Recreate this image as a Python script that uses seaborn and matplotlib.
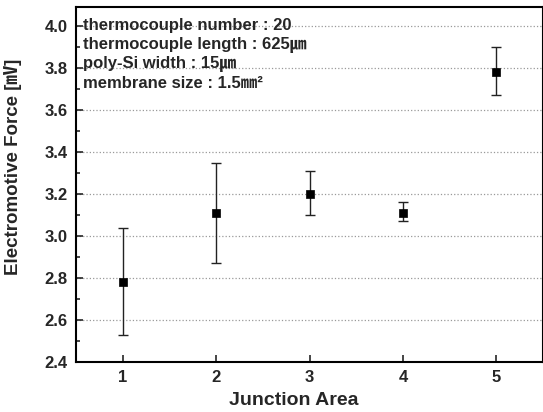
import matplotlib
matplotlib.use("Agg")
import numpy as np
import pandas as pd
import matplotlib.pyplot as plt
import seaborn as sns
from matplotlib.ticker import MultipleLocator

junction = [1, 2, 3, 4, 5]
emf = [2.78, 3.11, 3.20, 3.11, 3.78]
err_low = [0.25, 0.24, 0.10, 0.04, 0.11]
err_high = [0.26, 0.24, 0.11, 0.05, 0.12]
notes = ["thermocouple number : 20",
         "thermocouple length : 625㎛",
         "poly-Si width : 15㎛",
         "membrane size : 1.5㎜²"]

df = pd.DataFrame({"Junction Area": junction, "EMF": emf})

sns.set_style("ticks")
plt.rcParams['font.family'] = ['Liberation Sans', 'Noto Sans CJK KR', 'DejaVu Sans']
plt.rcParams['font.weight'] = 'bold'

fig = plt.figure(figsize=(5.43, 4.12), dpi=100)
ax = fig.add_axes([0.140, 0.121, 0.860, 0.862])

ax.errorbar(junction, emf, yerr=[err_low, err_high], fmt='none',
            ecolor='#222222', elinewidth=1.0, capsize=3.5, capthick=1.0, zorder=2)
sns.scatterplot(data=df, x="Junction Area", y="EMF", marker='s', s=38,
                color='black', edgecolor='black', ax=ax, zorder=3)

ax.set_xlim(0.5, 5.5)
ax.set_ylim(2.4, 4.09)
ax.set_xticks(junction)
ax.yaxis.set_major_locator(MultipleLocator(0.2))
ax.yaxis.set_minor_locator(MultipleLocator(0.1))
ax.yaxis.set_major_formatter(matplotlib.ticker.FormatStrFormatter('%.1f'))
ax.tick_params(axis='both', which='both', direction='in', labelsize=12, width=1.2)
ax.tick_params(axis='both', which='major', length=5, pad=6)
ax.tick_params(axis='y', which='minor', length=3)
ax.grid(axis='y', which='major', linestyle=':', color='#999999', linewidth=0.9)
for s in ax.spines.values():
    s.set_linewidth(1.5)
    s.set_color('black')

ax.set_xlabel("Junction Area", fontsize=14, fontweight='bold')
ax.set_ylabel("Electromotive Force [㎷]", fontsize=13.5, fontweight='bold')
ax.xaxis.set_label_coords(0.467, -0.085)
ax.yaxis.set_label_coords(-0.115, 0.55)

for i, t in enumerate(notes):
    ax.text(0.57, 4.003 - i * 0.093, t, fontsize=12,
            fontweight='bold', va='center', ha='left')

fig.savefig("out.png", dpi=100)
